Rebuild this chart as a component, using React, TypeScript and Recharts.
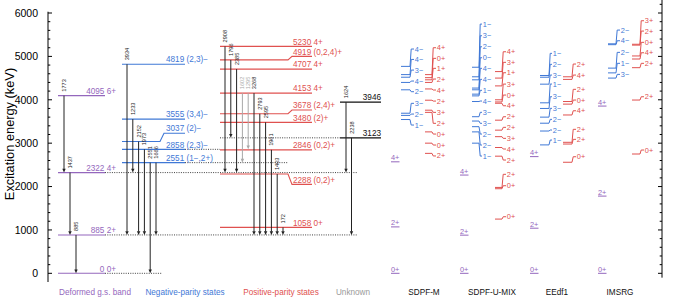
import React from "react";
import { ComposedChart, XAxis, YAxis, ReferenceLine, Scatter } from "recharts";

const FONT = "'Liberation Sans', Arial, sans-serif";
const PURPLE = "#9467bd";
const BLUE = "#3f78d6";
const RED = "#e0514f";
const GREY = "#9a9a9a";
const INK = "#111";

// ---- data ----
const groups = [
  "Deformed g.s. band",
  "Negative-parity states",
  "Positive-parity states",
  "Unknown",
  "SDPF-M",
  "SDPF-U-MIX",
  "EEdf1",
  "IMSRG",
];

const majorTicks = [0, 1000, 2000, 3000, 4000, 5000, 6000];

// experimental levels (keV); lab = where the label sits when it is pushed away
const gsLevels = [
  { e: 0, jp: "0+" },
  { e: 885, jp: "2+" },
  { e: 2322, jp: "4+" },
  { e: 4095, jp: "6+" },
];
const negLevels = [
  { e: 4819, jp: "(2,3)−" },
  { e: 3555, jp: "(3,4)−" },
  { e: 3037, jp: "(2)−", lab: 3230 },
  { e: 2858, jp: "(2,3)−" },
  { e: 2551, jp: "(1−,2+)" },
];
const posLevels = [
  { e: 5230, jp: "4+" },
  { e: 4919, jp: "(0,2,4)+", lab: 5000 },
  { e: 4707, jp: "4+" },
  { e: 4153, jp: "4+" },
  { e: 3678, jp: "(2,4)+", lab: 3765 },
  { e: 3480, jp: "(2)+" },
  { e: 2846, jp: "(0,2)+" },
  { e: 2288, jp: "(0,2)+", lab: 2050 },
  { e: 1058, jp: "0+" },
];
const unkLevels = [{ e: 3946 }, { e: 3123 }];

// gamma transitions
const gsGammas = [
  { from: 4095, to: 2322, eg: "1773" },
  { from: 2322, to: 885, eg: "1437" },
  { from: 885, to: 0, eg: "885" },
];
const negGammas = [
  { from: 4819, to: 885, eg: "3934" },
  { from: 3555, to: 2322, eg: "1233" },
  { from: 3037, to: 885, eg: "2152" },
  { from: 2858, to: 885, eg: "1973" },
  { from: 2551, to: 0, eg: "2551" },
  { from: 2551, to: 885, eg: "1666" },
];
const posGammas = [
  { from: 5230, to: 2322, eg: "2908" },
  { from: 4919, to: 3123, eg: "1796" },
  { from: 4707, to: 2322, eg: "2385" },
  { from: 4153, to: 2551, eg: "1602", weak: true },
  { from: 4153, to: 2858, eg: "1295", weak: true },
  { from: 4153, to: 885, eg: "3268" },
  { from: 3678, to: 885, eg: "2793" },
  { from: 3480, to: 885, eg: "2595" },
  { from: 2846, to: 885, eg: "1961" },
  { from: 2288, to: 885, eg: "1403" },
  { from: 1058, to: 885, eg: "172" },
];
const unkGammas = [
  { from: 3946, to: 2322, eg: "1624" },
  { from: 3123, to: 885, eg: "2238" },
];

// theory: ground band
const sdpfmGs = [{ e: 0, jp: "0+" }, { e: 1070, jp: "2+" }, { e: 2570, jp: "4+" }];
const umixGs = [{ e: 0, jp: "0+" }, { e: 880, jp: "2+" }, { e: 2265, jp: "4+" }];
const eedfGs = [{ e: 0, jp: "0+" }, { e: 1040, jp: "2+" }, { e: 2690, jp: "4+" }];
const imsrgGs = [{ e: 0, jp: "0+" }, { e: 1780, jp: "2+" }, { e: 3855, jp: "4+" }];

// theory: other levels (e = level, lab = label position)
const sdpfmNeg = [
  { e: 4770, lab: 5170, jp: "4−" },
  { e: 4580, lab: 4930, jp: "4−" },
  { e: 4520, lab: 4685, jp: "3−" },
  { e: 4400, lab: 4432, jp: "4−" },
  { e: 4230, lab: 4186, jp: "2−" },
  { e: 3690, lab: 3918, jp: "3−" },
  { e: 3640, lab: 3671, jp: "2−" },
  { e: 3545, lab: 3418, jp: "1−" },
];
const sdpfmPos = [
  { e: 4580, lab: 5200, jp: "4+" },
  { e: 4510, lab: 4955, jp: "0+" },
  { e: 4460, lab: 4725, jp: "1+" },
  { e: 4400, lab: 4478, jp: "2+" },
  { e: 4250, lab: 4225, jp: "4+" },
  { e: 3990, lab: 3970, jp: "2+" },
  { e: 3760, lab: 3710, jp: "3+" },
  { e: 3710, lab: 3457, jp: "2+" },
  { e: 3260, lab: 3210, jp: "0+" },
  { e: 3000, lab: 2957, jp: "0+" },
  { e: 2765, lab: 2705, jp: "2+" },
];
const umixNeg = [
  { e: 4750, lab: 5745, jp: "1−" },
  { e: 4530, lab: 5476, jp: "3−" },
  { e: 4460, lab: 5222, jp: "2−" },
  { e: 4270, lab: 4969, jp: "0−" },
  { e: 4230, lab: 4725, jp: "4−" },
  { e: 4130, lab: 4471, jp: "4−" },
  { e: 4090, lab: 4218, jp: "1−" },
  { e: 3960, lab: 3971, jp: "4−" },
  { e: 3610, lab: 3711, jp: "3−" },
  { e: 3510, lab: 3457, jp: "3−" },
  { e: 3380, lab: 3210, jp: "2−" },
  { e: 3260, lab: 2957, jp: "2−" },
  { e: 3000, lab: 2703, jp: "1−" },
];
const umixPos = [
  { e: 4650, lab: 5107, jp: "4+" },
  { e: 4500, lab: 4863, jp: "3+" },
  { e: 4320, lab: 4623, jp: "1+" },
  { e: 4000, lab: 4362, jp: "3+" },
  { e: 3950, lab: 4109, jp: "0+" },
  { e: 3920, lab: 3862, jp: "4+" },
  { e: 3530, lab: 3609, jp: "2+" },
  { e: 3300, lab: 3365, jp: "2+" },
  { e: 3150, lab: 3111, jp: "3+" },
  { e: 2900, lab: 2865, jp: "4+" },
  { e: 2700, lab: 2611, jp: "2+" },
  { e: 1980, lab: 2282, jp: "2+" },
  { e: 1950, lab: 2019, jp: "0+" },
  { e: 1250, lab: 1304, jp: "0+" },
];
const eedfNeg = [
  { e: 4560, lab: 5070, jp: "1−" },
  { e: 4520, lab: 4817, jp: "2−" },
  { e: 4360, lab: 4570, jp: "3−" },
  { e: 3930, lab: 4363, jp: "1−" },
  { e: 3800, lab: 4070, jp: "3−" },
  { e: 3600, lab: 3803, jp: "3−" },
  { e: 3460, lab: 3549, jp: "2−" },
  { e: 3280, lab: 3303, jp: "2−" },
  { e: 2960, lab: 3072, jp: "1−" },
];
const eedfPos = [
  { e: 4530, lab: 4824, jp: "2+" },
  { e: 4470, lab: 4570, jp: "4+" },
  { e: 3960, lab: 4241, jp: "2+" },
  { e: 3900, lab: 3994, jp: "0+" },
  { e: 3650, lab: 3747, jp: "4+" },
  { e: 3020, lab: 3319, jp: "2+" },
  { e: 2980, lab: 3088, jp: "2+" },
  { e: 2560, lab: 2687, jp: "0+" },
];
const imsrgNeg = [
  { e: 5290, lab: 5607, jp: "2−" },
  { e: 5270, lab: 5361, jp: "4−" },
  { e: 4730, lab: 5093, jp: "2−" },
  { e: 4620, lab: 4840, jp: "1−" },
  { e: 4500, lab: 4586, jp: "3−" },
];
const imsrgPos = [
  { e: 5280, lab: 5822, jp: "3+" },
  { e: 5260, lab: 5584, jp: "2+" },
  { e: 5010, lab: 5324, jp: "0+" },
  { e: 4940, lab: 5084, jp: "4+" },
  { e: 4740, lab: 4840, jp: "2+" },
  { e: 3994, lab: 4070, jp: "2+" },
  { e: 2750, lab: 2842, jp: "0+" },
];

// ---- layout (x in plot units) ----
const X0 = 48;
const X1 = 662;
const catCenters = [95, 185, 281, 353, 424, 492, 557, 620];
const catColors = [PURPLE, BLUE, RED, GREY, INK, INK, INK, INK];

const gsCol = { x1: 58, x2: 105, tx: 116, anchor: "end", a0: 64, step: 6 };
const negCol = { x1: 122, x2: 185, tx: 166, anchor: "start", kink: 160, a0: 127, step: 5.8 };
const posCol = { x1: 220, x2: 312, tx: 293, anchor: "start", kink: 288, a0: 225, step: 5.8 };
const unkCol = { x1: 340, x2: 381, tx: 381, anchor: "end", a0: 346, step: 5.5 };

const dotted = [
  { e: 0, x1: 105, x2: 162 },
  { e: 885, x1: 105, x2: 358 },
  { e: 2322, x1: 105, x2: 358 },
  { e: 2551, x1: 185, x2: 288 },
  { e: 2858, x1: 185, x2: 220 },
  { e: 3123, x1: 220, x2: 340 },
];

const theoryCols = [
  { gs: sdpfmGs, neg: sdpfmNeg, pos: sdpfmPos, gx: 391, nx: [401, 410, 414], px: [425, 432, 436] },
  { gs: umixGs, neg: umixNeg, pos: umixPos, gx: 460, nx: [472, 479, 482], px: [495, 502, 506] },
  { gs: eedfGs, neg: eedfNeg, pos: eedfPos, gx: 530, nx: [540, 549, 552], px: [563, 572, 576] },
  { gs: imsrgGs, neg: imsrgNeg, pos: imsrgPos, gx: 598, nx: [608, 616, 620], px: [632, 640, 644] },
];

// ---- shapes ----
function levelShape(color: string, text: string, xa: number, xb: number, xk: number, tx: number, anchor: string) {
  return (p: any) => {
    const { x1, y1, x2, y2 } = p;
    const sx = (v: number) => x1 + ((v - xa) * (x2 - x1)) / (xb - xa);
    const d =
      Math.abs(y2 - y1) < 0.5
        ? `M${x1},${y1}H${x2}`
        : `M${x1},${y1}H${sx(xk)}L${sx(xk + 4)},${y2}H${x2}`;
    return (
      <g>
        <path d={d} fill="none" stroke={color} strokeWidth={1.1} />
        <text x={sx(tx)} y={y2 - 1.8} fontSize={8.2} fill={color} textAnchor={anchor as any} fontFamily={FONT}>
          {text}
        </text>
      </g>
    );
  };
}

function gammaShape(label: string, color: string) {
  return (p: any) => {
    const { x1, y1, x2, y2 } = p;
    const h = 3.8;
    const w = 1.7;
    return (
      <g>
        <line x1={x1} y1={y1} x2={x2} y2={y2 - h + 0.5} stroke={color} strokeWidth={1} />
        <path d={`M${x2 - w},${y2 - h}L${x2 + w},${y2 - h}L${x2},${y2}Z`} fill={color} />
        <text transform={`translate(${x1 + 2},${y1 - 4}) rotate(-90)`} fontSize={5.6} fill={color} fontFamily={FONT}>
          {label}
        </text>
      </g>
    );
  };
}

function theoryShape(color: string, jp: string, xa: number, xk: number, xl: number) {
  return (p: any) => {
    const { x1, y1, x2, y2 } = p;
    const sx = (v: number) => x1 + ((v - xa) * (x2 - x1)) / (xl - xa);
    const d = `M${x1},${y1}H${sx(xk)}L${sx(xk + 1.2)},${y2}H${x2}`;
    return (
      <g>
        <path d={d} fill="none" stroke={color} strokeWidth={1} />
        <text x={x2 + 0.8} y={y2} dominantBaseline="central" fontSize={7.4} fill={color} fontFamily={FONT}>
          {jp}
        </text>
      </g>
    );
  };
}

function gsTheoryShape(jp: string) {
  return (p: any) => {
    const { x1, y1, x2 } = p;
    return (
      <g>
        <line x1={x1} y1={y1} x2={x2} y2={y1} stroke={PURPLE} strokeWidth={1} />
        <text x={x1} y={y1 - 1.5} fontSize={7.4} fill={PURPLE} fontFamily={FONT}>
          {jp}
        </text>
      </g>
    );
  };
}

const CatTick = (props: any) => {
  const { x, y, payload } = props;
  let i = catCenters.findIndex((c) => Math.abs(c - Number(payload.value)) < 0.5);
  if (i < 0) i = payload.index ?? 0;
  return (
    <text x={x} y={y} dy={8} textAnchor="middle" fontSize={8.2} fill={catColors[i]} fontFamily={FONT}>
      {groups[i]}
    </text>
  );
};

const seg = (xa: number, ya: number, xb: number, yb: number) => [
  { x: xa, y: ya },
  { x: xb, y: yb },
];

export default function App() {
  const minorL = Array.from({ length: 31 }, (_, i) => i * 200);
  const minorR = Array.from({ length: 32 }, (_, i) => i * 200);
  const lines: React.ReactNode[] = [];
  let k = 0;

  // axis ticks pointing into the plot
  minorL.forEach((v) => {
    const len = v % 1000 === 0 ? 4 : 2.3;
    lines.push(<ReferenceLine key={k++} segment={seg(X0, v, X0 + len, v)} stroke="#000" strokeWidth={1} ifOverflow="visible" />);
  });
  minorR.forEach((v) => {
    const len = v % 1000 === 0 ? 4 : 2.3;
    lines.push(<ReferenceLine key={k++} segment={seg(X1 - len, v, X1, v)} stroke="#000" strokeWidth={1} ifOverflow="visible" />);
  });

  // dotted guides
  dotted.forEach((d) =>
    lines.push(
      <ReferenceLine key={k++} segment={seg(d.x1, d.e, d.x2, d.e)} stroke={INK} strokeWidth={0.8} strokeDasharray="1 1.3" ifOverflow="visible" />
    )
  );

  // experimental levels
  const expGroups: [any[], any, string, boolean][] = [
    [gsLevels, gsCol, PURPLE, true],
    [negLevels, negCol, BLUE, true],
    [posLevels, posCol, RED, true],
    [unkLevels, unkCol, INK, false],
  ];
  expGroups.forEach(([lv, col, color, withJp]) =>
    lv.forEach((l: any) => {
      const lab = l.lab ?? l.e;
      const text = withJp ? `${l.e} ${l.jp}` : `${l.e}`;
      lines.push(
        <ReferenceLine
          key={k++}
          segment={seg(col.x1, l.e, col.x2, lab)}
          ifOverflow="visible"
          shape={levelShape(color, text, col.x1, col.x2, col.kink ?? col.x2, col.tx, col.anchor)}
        />
      );
    })
  );

  // gammas
  const gamGroups: [any[], any][] = [
    [gsGammas, gsCol],
    [negGammas, negCol],
    [posGammas, posCol],
    [unkGammas, unkCol],
  ];
  gamGroups.forEach(([gs, col]) =>
    gs.forEach((g: any, i: number) => {
      const x = col.a0 + i * col.step;
      lines.push(
        <ReferenceLine
          key={k++}
          segment={seg(x, g.from, x, g.to)}
          ifOverflow="visible"
          shape={gammaShape(g.eg, g.weak ? "#a8a8a8" : "#222")}
        />
      );
    })
  );

  // theory
  theoryCols.forEach((tc) => {
    tc.gs.forEach((l) =>
      lines.push(
        <ReferenceLine key={k++} segment={seg(tc.gx, l.e, tc.gx + 8.5, l.e)} ifOverflow="visible" shape={gsTheoryShape(l.jp)} />
      )
    );
    ([
      [tc.neg, tc.nx, BLUE],
      [tc.pos, tc.px, RED],
    ] as [any[], number[], string][]).forEach(([lv, xs, color]) =>
      lv.forEach((l: any) =>
        lines.push(
          <ReferenceLine
            key={k++}
            segment={seg(xs[0], l.e, xs[2], l.lab)}
            ifOverflow="visible"
            shape={theoryShape(color, l.jp, xs[0], xs[1], xs[2])}
          />
        )
      )
    );
  });

  return (
    <div style={{ position: "absolute", left: 0, top: 0, fontFamily: FONT }}>
      <ComposedChart width={675} height={300} margin={{ top: 0, right: 13, bottom: 0, left: 0 }}>
        <XAxis
          type="number"
          dataKey="x"
          domain={[X0, X1]}
          ticks={catCenters}
          interval={0}
          allowDataOverflow
          height={18}
          axisLine={false}
          tickLine={false}
          tickSize={0}
          tickMargin={5}
          tick={<CatTick />}
        />
        <YAxis
          type="number"
          dataKey="y"
          domain={[-200, 6300]}
          allowDataOverflow
          ticks={majorTicks}
          interval={0}
          width={48}
          axisLine={false}
          tickLine={false}
          tickSize={6}
          tickMargin={4}
          tick={{ fontSize: 10.5, fill: "#000", fontFamily: FONT }}
          label={{
            content: () => (
              <text
                transform="translate(9,134) rotate(-90)"
                textAnchor="middle"
                dominantBaseline="central"
                fontSize={12.8}
                fill="#000"
                fontFamily={FONT}
              >
                Excitation energy (keV)
              </text>
            ),
          }}
        />
        <ReferenceLine segment={seg(X0, -200, X0, 6030)} stroke="#000" strokeWidth={1} ifOverflow="visible" />
        <ReferenceLine segment={seg(X1, -100, X1, 6300)} stroke="#000" strokeWidth={1} ifOverflow="visible" />
        {lines}
        <Scatter data={[]} isAnimationActive={false} />
      </ComposedChart>
    </div>
  );
}
